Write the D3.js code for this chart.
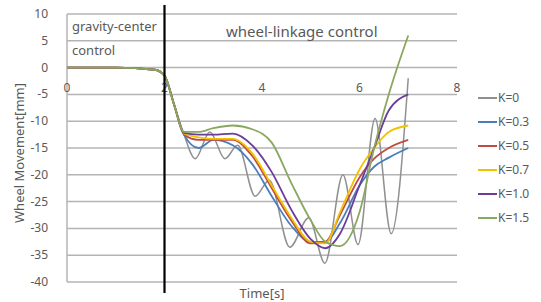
<!DOCTYPE html>
<html>
<head>
<meta charset="utf-8">
<script src="https://cdn.jsdelivr.net/npm/d3@7"></script>
<style>
  body { margin: 0; background: #fff; }
  svg text { font-family: "Noto Sans", sans-serif; fill: #595959; }
</style>
</head>
<body>
<div id="chart"></div>
<script>
// time grid shared by the smooth curves
const tSmooth = [0, 1, 1.8, 2, 2.2, 2.4, 2.7, 3, 3.4, 3.8, 4.2, 4.6, 5, 5.3, 5.6, 6, 6.3, 6.6, 7];
const vK03 = [0, 0, -0.4, -1.5, -7, -12.5, -15, -13.5, -14.5, -18, -24, -29.5, -32.5, -32.5, -29, -22, -18.5, -16.8, -15];
const vK05 = [0, 0, -0.4, -1.5, -7, -12.5, -13.5, -13.5, -13.5, -16.5, -22.5, -28.5, -32.8, -32.5, -27.5, -20.5, -17, -15, -13.5];
const vK07 = [0, 0, -0.4, -1.5, -7, -12.3, -13, -13.3, -13.3, -16, -22, -28, -32.5, -32.8, -27, -19, -15, -12, -10.8];
const vK10 = [0, 0, -0.4, -1.5, -7, -12.2, -12.5, -12.5, -12.3, -14.5, -19.5, -26.5, -32, -33.7, -31, -22, -15, -8, -5];
const vK15 = [0, 0, -0.4, -1.5, -7, -12, -12, -11.3, -10.8, -11.5, -14, -21.5, -28.5, -32.5, -33.3, -27, -15, -5, 6];

// K=0 oscillates, so it has its own time points
const tK0 = [0, 1, 1.8, 2, 2.2, 2.4, 2.63, 2.93, 3.24, 3.5, 3.86, 4.15, 4.57, 4.96, 5.29, 5.66, 5.97, 6.32, 6.65, 7];
const vK0 = [0, 0, -0.4, -1.5, -7, -12.5, -17, -12, -17, -14.5, -24, -21, -33.5, -28, -36.5, -20, -33, -9.5, -31, -2];

const seriesNames = ["K=0", "K=0.3", "K=0.5", "K=0.7", "K=1.0", "K=1.5"];
const seriesColors = ["#909090", "#4a7ebb", "#be4b48", "#f2c200", "#6a3d9a", "#8aa860"];
const seriesData = [
    tK0.map((t, i) => [t, vK0[i]]),
    tSmooth.map((t, i) => [t, vK03[i]]),
    tSmooth.map((t, i) => [t, vK05[i]]),
    tSmooth.map((t, i) => [t, vK07[i]]),
    tSmooth.map((t, i) => [t, vK10[i]]),
    tSmooth.map((t, i) => [t, vK15[i]])
];

const yTicks = [10, 5, 0, -5, -10, -15, -20, -25, -30, -35, -40];
const xTicks = [0, 2, 4, 6, 8];

const width = 541, height = 302;

const x = d3.scaleLinear().domain([0, 8]).range([67, 457]);
const y = d3.scaleLinear().domain([-40, 10]).range([282, 14]);

const svg = d3.select("#chart").append("svg")
    .attr("width", width)
    .attr("height", height);

// horizontal gridlines
svg.append("g")
    .selectAll("line")
    .data(yTicks)
    .join("line")
    .attr("x1", x(0))
    .attr("x2", x(8))
    .attr("y1", d => y(d))
    .attr("y2", d => y(d))
    .attr("stroke", "#b4b4b4")
    .attr("stroke-width", 1.5);

// vertical axis line
svg.append("line")
    .attr("x1", x(0)).attr("x2", x(0))
    .attr("y1", y(10)).attr("y2", y(-40))
    .attr("stroke", "#b4b4b4")
    .attr("stroke-width", 1.5);

// y tick labels
svg.append("g")
    .selectAll("text")
    .data(yTicks)
    .join("text")
    .attr("x", 48)
    .attr("y", d => y(d) + 4)
    .attr("text-anchor", "end")
    .attr("font-size", 12)
    .text(d => d);

// x tick labels sit just under the zero line
svg.append("g")
    .selectAll("text")
    .data(xTicks)
    .join("text")
    .attr("x", d => x(d))
    .attr("y", y(0) + 24)
    .attr("text-anchor", "middle")
    .attr("font-size", 12)
    .text(d => d);

// annotations
svg.append("text").attr("x", 72).attr("y", 31).attr("font-size", 13).text("gravity-center");
svg.append("text").attr("x", 72).attr("y", 55).attr("font-size", 13).text("control");
svg.append("text").attr("x", 226).attr("y", 37).attr("font-size", 15).attr("fill", "#404040").text("wheel-linkage control");

// series
const line = d3.line()
    .x(d => x(d[0]))
    .y(d => y(d[1]))
    .curve(d3.curveMonotoneX);

svg.append("g")
    .selectAll("path")
    .data(seriesData)
    .join("path")
    .attr("d", line)
    .attr("fill", "none")
    .attr("stroke", (d, i) => seriesColors[i])
    .attr("stroke-width", (d, i) => i === 0 ? 1.5 : 1.8);

// boundary between the two control modes
svg.append("line")
    .attr("x1", x(2)).attr("x2", x(2))
    .attr("y1", 5).attr("y2", 293)
    .attr("stroke", "#000")
    .attr("stroke-width", 2.2);

// axis titles
svg.append("text")
    .attr("transform", "translate(24,153) rotate(-90)")
    .attr("text-anchor", "middle")
    .attr("font-size", 13)
    .text("Wheel Movement[mm]");

svg.append("text")
    .attr("x", 262)
    .attr("y", 298)
    .attr("text-anchor", "middle")
    .attr("font-size", 13)
    .text("Time[s]");

// legend
const legend = svg.append("g")
    .selectAll("g")
    .data(seriesNames)
    .join("g")
    .attr("transform", (d, i) => "translate(478," + (98 + i * 24) + ")");

legend.append("line")
    .attr("x1", 0).attr("x2", 19)
    .attr("stroke", (d, i) => seriesColors[i])
    .attr("stroke-width", 2);

legend.append("text")
    .attr("x", 20)
    .attr("y", 4)
    .attr("font-size", 12)
    .text(d => d);
</script>
</body>
</html>
